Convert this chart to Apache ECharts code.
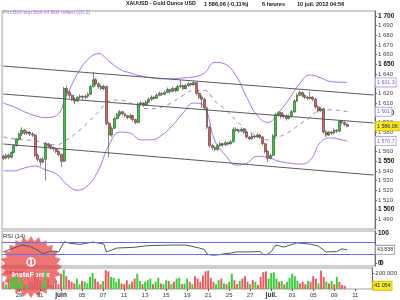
<!DOCTYPE html>
<html><head><meta charset="utf-8">
<script src="https://cdn.jsdelivr.net/npm/echarts@6/dist/echarts.min.js"></script>
<style>html,body{margin:0;padding:0;background:#fff}#c{width:400px;height:300px}</style>
</head><body><div id="c"></div>
<script>
// ---------- DATA ----------
const categoryCount = 141;
const tickIdx  = [6,14,22,30,38,46,54,62,70,78,86,94,102,110,118,126,134];
const tickText = ['29','31','juin','05','07','11','13','15','19','21','25','27','juil.','03','05','09','11'];
const boldTickText = ['juin','juil.'];

// [open, close, low, high]
const ohlc = [
[1555,1553,1551,1557],[1553,1556,1552,1558],[1556,1554,1552,1558],[1554,1559,1553,1560],[1559,1566,1558,1567],
[1566,1573,1565,1574],[1573,1578,1571,1580],[1578,1582,1576,1585],[1582,1579,1577,1583],[1579,1580,1577,1582],
[1580,1578,1576,1581],[1578,1577,1575,1580],[1577,1556,1554,1578],[1556,1552,1550,1558],[1552,1549,1545,1553],
[1549,1552,1548,1554],[1552,1568,1530,1570],[1568,1566,1564,1569],[1566,1564,1562,1567],[1564,1563,1560,1565],
[1563,1560,1558,1564],[1560,1557,1555,1561],[1557,1550,1544,1558],[1550,1625,1549,1627],[1625,1621,1617,1628],
[1621,1618,1615,1623],[1618,1614,1612,1619],[1614,1612,1609,1616],[1612,1616,1611,1617],[1616,1617,1614,1619],
[1617,1616,1613,1618],[1616,1617,1614,1619],[1617,1619,1615,1621],[1619,1627,1618,1629],[1627,1634,1626,1642],
[1634,1630,1628,1636],[1630,1627,1625,1631],[1627,1625,1623,1629],[1625,1627,1623,1629],[1627,1589,1587,1628],
[1589,1577,1554,1591],[1577,1584,1575,1586],[1584,1594,1583,1596],[1594,1598,1593,1600],[1598,1601,1596,1603],
[1601,1599,1597,1602],[1599,1597,1595,1600],[1597,1595,1593,1598],[1595,1597,1593,1599],[1597,1593,1591,1598],
[1593,1590,1588,1594],[1590,1609,1589,1611],[1609,1610,1607,1612],[1610,1608,1606,1611],[1608,1611,1607,1613],
[1611,1614,1610,1616],[1614,1616,1612,1618],[1616,1615,1613,1617],[1615,1618,1614,1620],[1618,1620,1617,1622],
[1620,1619,1617,1621],[1619,1621,1618,1623],[1621,1624,1620,1626],[1624,1622,1620,1625],[1622,1625,1621,1627],
[1625,1623,1621,1626],[1623,1627,1622,1629],[1627,1628,1625,1634],[1628,1625,1623,1629],[1625,1628,1624,1630],
[1628,1630,1627,1632],[1630,1629,1627,1631],[1629,1631,1628,1633],[1631,1620,1618,1632],[1620,1616,1614,1622],
[1616,1614,1605,1618],[1614,1605,1603,1615],[1605,1585,1583,1606],[1585,1566,1564,1587],[1566,1564,1561,1568],
[1564,1562,1560,1566],[1562,1566,1561,1568],[1566,1568,1565,1570],[1568,1567,1565,1569],[1567,1569,1566,1571],
[1569,1568,1566,1570],[1568,1570,1567,1572],[1570,1583,1569,1585],[1583,1582,1580,1585],[1582,1581,1579,1583],
[1581,1583,1580,1585],[1583,1580,1578,1584],[1580,1575,1573,1581],[1575,1573,1571,1576],[1573,1576,1572,1578],
[1576,1575,1573,1577],[1575,1577,1574,1579],[1577,1575,1573,1578],[1575,1568,1566,1576],[1568,1560,1558,1569],
[1560,1553,1549,1561],[1553,1556,1552,1558],[1556,1576,1555,1578],[1576,1598,1575,1600],[1598,1600,1596,1602],
[1600,1596,1594,1601],[1596,1597,1594,1599],[1597,1594,1592,1598],[1594,1596,1593,1598],[1596,1601,1595,1603],
[1601,1612,1600,1614],[1612,1618,1611,1620],[1618,1621,1617,1623],[1621,1618,1616,1622],[1618,1616,1614,1619],
[1616,1615,1613,1617],[1615,1616,1613,1622],[1616,1614,1612,1617],[1614,1606,1604,1615],[1606,1602,1600,1608],
[1602,1604,1601,1606],[1604,1580,1578,1605],[1580,1577,1575,1582],[1577,1580,1576,1581],[1580,1579,1577,1581],
[1579,1582,1578,1584],[1582,1581,1579,1583],[1581,1591,1580,1592],[1591,1590,1588,1592],[1590,1588,1586,1591],
[1588,1586.06,1585,1589]
];

const volume = [
90000,60000,120000,130000,150000,170000,80000,130000,60000,50000,
100000,90000,220000,140000,110000,70000,230000,120000,60000,90000,
100000,60000,190000,240000,160000,110000,90000,70000,130000,60000,
100000,90000,70000,150000,200000,130000,90000,60000,100000,235000,
220000,150000,140000,90000,130000,70000,60000,110000,60000,90000,
130000,190000,100000,60000,90000,110000,130000,60000,90000,140000,
70000,60000,110000,100000,60000,90000,130000,140000,60000,70000,
130000,90000,60000,160000,130000,90000,170000,220000,230000,140000,
90000,60000,110000,130000,70000,60000,90000,190000,110000,60000,
100000,130000,160000,90000,60000,110000,90000,50000,150000,210000,
220000,130000,200000,210000,130000,90000,100000,60000,90000,140000,
190000,160000,100000,70000,90000,60000,100000,90000,160000,130000,
70000,230000,150000,90000,70000,100000,60000,150000,90000,50000,
41054
];

const bandIdx    = [0,4,8,12,16,20,24,28,32,36,40,44,48,52,56,60,64,68,72,76,80,84,88,92,96,100,104,108,112,116,120,124,128,130];
const bollUpper  = [1610,1606,1601,1597,1595,1597,1618,1640,1655,1661,1653,1645,1641,1638,1636,1635,1635,1636,1637,1641,1652,1650,1638,1616,1597,1590,1600,1614,1630,1639,1636,1632,1631.5,1631.3];
const bollMiddle = [1575,1573,1572,1571,1568,1567,1572,1580,1590,1601,1612,1613,1610,1605,1604,1606,1611,1618,1623,1623,1612,1603,1592,1582,1576,1572,1575,1580,1588,1595,1603,1603,1602,1601];
const bollLower  = [1540,1540,1543,1545,1541,1537,1526,1520,1525,1541,1567,1580,1579,1572,1572,1577,1587,1600,1610,1606,1571,1556,1546,1548,1555,1554,1550,1548,1547,1551,1570,1574,1572,1570.7];

const rsiIdx = [0,4,7,10,13,15,18,21,23,25,29,34,35,38,39,43,49,55,64,69,74,76,77,78,80,82,83,86,88,93,97,98,99,100,101,103,106,111,116,119,122,126,128,130];
const rsiVal = [37,50,60,55,43,31,40,38,71,66,62,70,68,63,37,50,52,58,60,60,50,45,30,27,26,28,30,33,37,37,38,30,27,30,35,60,53,67,63,57,37,38,47,43.838];
const rsiLowIdx = [77,78,80,82,83,98,99,100];
const rsiLowVal = [30,27,26,28,30,30,27,30];

const channelStart = [1648.2, 1619.3, 1567.7];
const channelEnd   = [1618.3, 1589.4, 1535.7];

const priceTicks = [1490,1500,1510,1520,1530,1540,1550,1560,1570,1580,1590,1600,1610,1620,1630,1640,1650,1660,1670,1680,1690,1700];
const rsiTicks = [0,100];
const volumeTicks = [200000];

const lastPrice = 1586.06, lastUpper = 1631.3, lastMiddle = 1601, lastLower = 1570.7, lastRsi = 43.838, lastVolume = 41054;

// ---------- BUILD ----------
const FONT = 'Liberation Sans, Arial, sans-serif';
const PURPLE = '#a574e6';
function fr(v) {
  const s = String(v); const parts = s.split('.');
  const i = parts[0].replace(/\B(?=(\d{3})+(?!\d))/g, ' ');
  return parts[1] ? i + ',' + parts[1] : i;
}
const categories = Array.from({length: categoryCount}, (_, i) => {
  const k = tickIdx.indexOf(i); return k >= 0 ? tickText[k] : '';
});
const isTick = (i) => tickIdx.indexOf(i) >= 0;
const pairs = (xs, ys) => xs.map((x, k) => [x, ys[k]]);

function tag(value, text, bg, border, color) {
  return {
    yAxis: value,
    lineStyle: {color: 'rgba(0,0,0,0)', width: 1},
    label: {show: true, position: 'end', distance: 1, formatter: text,
      backgroundColor: bg, borderColor: border, borderWidth: 1, padding: [1, 1, 0, 1],
      color: color, fontSize: 5.3, fontFamily: FONT, lineHeight: 7}
  };
}

const grids = [
  {left: 2, right: 25, top: 11, height: 218, show: true, borderColor: '#a0a0a0', borderWidth: 1},
  {left: 2, right: 25, top: 231, height: 35, show: true, borderColor: '#a0a0a0', borderWidth: 1},
  {left: 2, right: 25, top: 268, height: 21, show: true, borderColor: '#a0a0a0', borderWidth: 1}
];
const xAxes = [0, 1, 2].map(g => ({
  type: 'category', gridIndex: g, data: categories, boundaryGap: true,
  axisLine: {show: false},
  axisTick: {show: g === 2, alignWithLabel: true, interval: (i) => isTick(i), length: 2, lineStyle: {color: '#555'}},
  axisLabel: {show: g === 2, interval: (i) => isTick(i), margin: 3, fontSize: 6, fontFamily: FONT, color: '#333',
    formatter: (v) => boldTickText.indexOf(v) >= 0 ? '{b|' + v + '}' : v,
    rich: {b: {fontWeight: 'bold', fontSize: 6.5, fontFamily: FONT, color: '#222'}}},
  splitLine: {show: false}
}));

const axisCommon = {
  position: 'right',
  axisLine: {show: true, lineStyle: {color: '#666'}},
  splitLine: {show: false}
};
const yAxes = [
  Object.assign({}, axisCommon, {
    type: 'value', gridIndex: 0, min: 1480, max: 1705, interval: 10,
    axisTick: {show: true, length: 2, customValues: priceTicks, lineStyle: {color: '#666'}},
    axisLabel: {customValues: priceTicks, margin: 3, fontFamily: FONT, color: '#333',
      formatter: (v) => (v % 50 === 0 ? '{b|' + fr(v) + '}' : '{n|' + fr(v) + '}'),
      rich: {b: {fontWeight: 'bold', fontSize: 6.5, fontFamily: FONT, color: '#111'},
             n: {fontSize: 6, fontFamily: FONT, color: '#444'}}}
  }),
  Object.assign({}, axisCommon, {
    type: 'value', gridIndex: 1, min: -10, max: 106.67,
    axisTick: {show: true, length: 2, customValues: rsiTicks},
    axisLabel: {customValues: rsiTicks, showMinLabel: true, margin: 3, fontSize: 6.5, fontWeight: 'bold', fontFamily: FONT, color: '#111', formatter: (v) => fr(v)}
  }),
  Object.assign({}, axisCommon, {
    type: 'value', gridIndex: 2, min: 0, max: 262500,
    axisTick: {show: true, length: 2, customValues: volumeTicks},
    axisLabel: {customValues: volumeTicks, margin: 3, fontSize: 6, fontFamily: FONT, color: '#333', formatter: (v) => fr(v)}
  })
];

const channelLines = channelStart.map((s, k) => [
  {coord: [0, s], lineStyle: {color: '#5a5a5a', width: 1, type: 'solid'}, label: {show: false}},
  {coord: [categoryCount - 1, channelEnd[k]]}
]);

const bandLine = (vals, dashed, tagText) => ({
  type: 'line', xAxisIndex: 0, yAxisIndex: 0, data: pairs(bandIdx, vals), smooth: 0.45,
  showSymbol: false, symbol: 'none', silent: true, z: 3,
  lineStyle: {color: PURPLE, width: 1, type: dashed ? [4, 4] : 'solid'},
  markLine: {silent: true, symbol: ['none', 'none'], animation: false, z: 10,
    data: [tag(tagText[0], tagText[1], '#fff', '#b9a6ee', '#7a5cc8')]}
});

const volumeData = volume.map((v, i) => ({
  value: v,
  itemStyle: {color: ohlc[i][1] >= ohlc[i][0] ? '#3ccc3c' : '#e06060'}
}));

const starPts = [];
for (let k = 0; k < 48; k++) {
  const r = k % 2 ? 26 : 31;
  const a = Math.PI * k / 24;
  starPts.push([Math.cos(a) * r, Math.sin(a) * r]);
}

const option = {
  animation: false,
  backgroundColor: '#fff',
  grid: grids,
  xAxis: xAxes,
  yAxis: yAxes,
  visualMap: [{
    type: 'piecewise', show: false, seriesIndex: 4, dimension: 1,
    pieces: [{gt: 70, color: '#2a2acc'}, {lt: 30, color: '#2e8b2e'}, {gte: 30, lte: 70, color: '#555'}]
  }],
  series: [
    {
      type: 'candlestick', xAxisIndex: 0, yAxisIndex: 0, data: ohlc, barWidth: 2.4, z: 4,
      itemStyle: {color: '#2fd12f', color0: '#e85a5a', borderColor: '#3a3a3a', borderColor0: '#3a3a3a', borderWidth: 0.6},
      markLine: {silent: true, symbol: ['none', 'none'], animation: false, z: 10,
        data: channelLines.concat([tag(lastPrice, fr(lastPrice), '#f6ea2a', '#d8c000', '#222')])}
    },
    bandLine(bollUpper, false, [lastUpper, fr(lastUpper)]),
    bandLine(bollMiddle, true, [lastMiddle, fr(lastMiddle)]),
    bandLine(bollLower, false, [lastLower, fr(lastLower)]),
    {
      type: 'line', xAxisIndex: 1, yAxisIndex: 1, data: pairs(rsiIdx, rsiVal), symbol: 'none', z: 3,
      lineStyle: {width: 1},
      markLine: {silent: true, symbol: ['none', 'none'], animation: false,
        data: [
          {yAxis: 70, lineStyle: {color: '#6b6bf0', width: 1, type: 'solid'}, label: {show: false}},
          {yAxis: 30, lineStyle: {color: '#6b6bf0', width: 1, type: 'solid'}, label: {show: false}},
          tag(lastRsi, fr(lastRsi), '#fff', '#999', '#333')
        ]}
    },
    {
      type: 'line', xAxisIndex: 1, yAxisIndex: 1, data: pairs(rsiLowIdx, rsiLowVal), symbol: 'none', z: 2,
      lineStyle: {width: 0}, areaStyle: {origin: 30, color: '#66cc66', opacity: 0.9}
    },
    {
      type: 'bar', xAxisIndex: 2, yAxisIndex: 2, data: volumeData, barWidth: 2,
      markLine: {silent: true, symbol: ['none', 'none'], animation: false,
        data: [tag(lastVolume, fr(lastVolume), '#f6ea2a', '#d8c000', '#222')]}
    }
  ],
  graphic: [
    {type: 'text', left: 126, top: 1, style: {text: 'XAUUSD - Gold Ounce USD', font: 'bold 5.3px ' + FONT, fill: '#111'}},
    {type: 'text', left: 204, top: 1, style: {text: '1 586,06 (-0,11%)', font: 'bold 5.6px ' + FONT, fill: '#111'}},
    {type: 'text', left: 262, top: 1, style: {text: '6 heures', font: 'bold 5.6px ' + FONT, fill: '#111'}},
    {type: 'text', left: 297, top: 1, style: {text: '10 juil. 2012 04:56', font: 'bold 5.6px ' + FONT, fill: '#111'}},
    {type: 'text', left: 3, top: 10, style: {text: 'Prix', font: '5.3px ' + FONT, fill: '#888'}},
    {type: 'text', left: 13, top: 10, style: {text: 'Boll sup Boll inf Boll milieu (20,2)', font: '5.3px ' + FONT, fill: PURPLE}},
    {type: 'text', left: 3, top: 233, style: {text: 'RSI (14)', font: '6px ' + FONT, fill: '#333'}},
    {type: 'text', left: 3, top: 269, style: {text: 'Volume', font: '6px ' + FONT, fill: '#d03030'}},
    {type: 'text', x: 380, y: 263, style: {text: '0', font: 'bold 6.5px ' + FONT, fill: '#111', verticalAlign: 'middle'}},
    {
      type: 'group', x: 31, y: 267, z: 100,
      children: [
        {type: 'polygon', shape: {points: starPts}, style: {fill: 'rgba(228,52,52,0.68)'}},
        {type: 'circle', shape: {cx: 0, cy: -5, r: 4}, style: {fill: 'none', stroke: '#fff', lineWidth: 1.5}},
        {type: 'rect', shape: {x: -0.8, y: -8, width: 1.6, height: 6}, style: {fill: '#fff'}},
        {type: 'text', x: 0, y: 8, style: {text: 'InstaForex', font: 'bold 7.5px ' + FONT, fill: '#fff', align: 'center', verticalAlign: 'middle'}}
      ]
    }
  ]
};

const chart = echarts.init(document.getElementById('c'), null, {renderer: 'canvas', width: 400, height: 300});
chart.setOption(option);
</script>
</body></html>
